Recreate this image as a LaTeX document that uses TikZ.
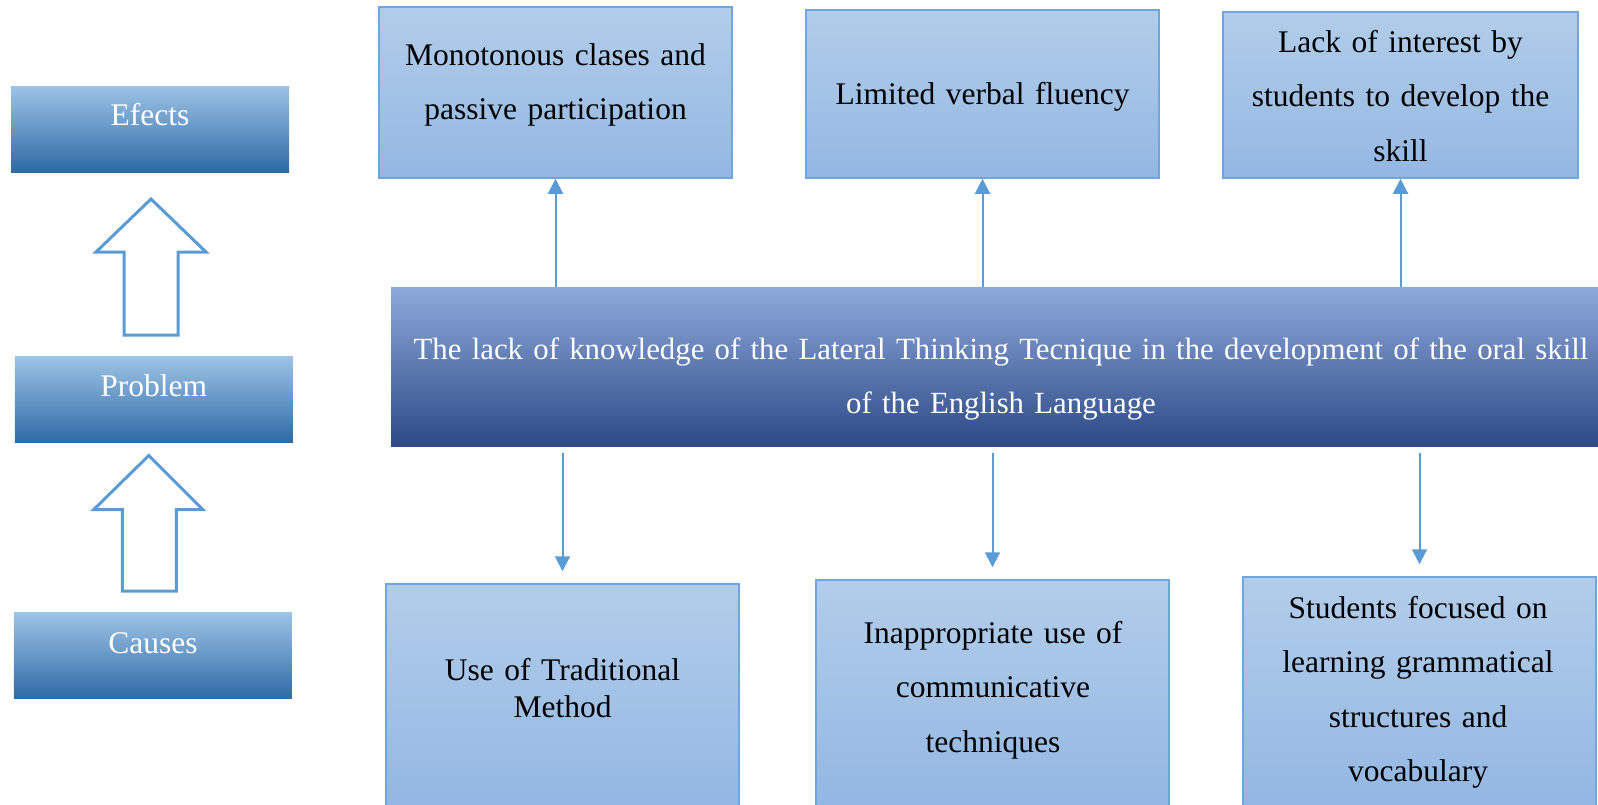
\documentclass[tikz,border=0pt]{standalone}
\usepackage{fontspec}
\setmainfont{Liberation Serif}
\usetikzlibrary{arrows.meta,calc}
\definecolor{lineblue}{HTML}{5B9BD5}
\definecolor{boxedge}{HTML}{6FA6DD}
\definecolor{boxtop}{HTML}{B2CDEA}
\definecolor{boxbot}{HTML}{93B7E3}
\definecolor{lefttop}{HTML}{9DC3E6}
\definecolor{leftmid}{HTML}{5B9BD5}
\definecolor{leftbot}{HTML}{2E6AA4}
\definecolor{ctop}{HTML}{8EA9DB}
\definecolor{cmid}{HTML}{4472C4}
\definecolor{cbot}{HTML}{2D4A86}
\tikzset{
  lightbox/.style={draw=boxedge, line width=0.75pt, top color=boxtop, bottom color=boxbot, inner sep=0pt},
  leftbox/.style={top color=lefttop, middle color=leftmid, bottom color=leftbot, inner sep=0pt, minimum width=139pt, minimum height=43pt},
  probbox/.style={top color=ctop, middle color=cmid, bottom color=cbot, inner sep=0pt},
  txt/.style={anchor=base, align=center, inner sep=0pt, text width=200pt, font=\fontsize{15.75}{27.3}\selectfont},
  wtxt/.style={txt, text=white},
  arr/.style={draw=lineblue, line width=1pt, -{Triangle[width=7.5pt,length=7.5pt]}},
  bigarrow/.style={draw=lineblue, line width=1.5pt, fill=white, line join=miter}
}
\begin{document}
\begin{tikzpicture}[x=0.5pt,y=-0.5pt]
\useasboundingbox (0,0) rectangle (1598,804);
% left column
\node[leftbox] (efects) at (150,129) {};
\node[wtxt] (efectstxt) at (150,125.7) {Efects};
\node[leftbox] (problem) at (153.8,399.7) {};
\node[wtxt] (problemtxt) at (153.8,396.7) {Problem};
\node[leftbox] (causes) at (152.9,655.8) {};
\node[wtxt] (causestxt) at (152.9,653.5) {Causes};
\draw[bigarrow] (151,199) -- (206,252) -- (178,252) -- (178,335) -- (124,335) -- (124,252) -- (96,252) -- cycle;
\draw[bigarrow] (148.8,455.5) -- (202.8,509.5) -- (176.3,509.5) -- (176.3,591) -- (122.3,591) -- (122.3,509.5) -- (93.8,509.5) -- cycle;
% effects
\node[lightbox, minimum width=176.5pt, minimum height=85.5pt] (t1) at (555.5,92.5) {};
\node[txt] (t1txt) at (555.5,65) {Monotonous clases and\\passive participation};
\node[lightbox, minimum width=176.5pt, minimum height=84pt] (t2) at (982.5,94) {};
\node[txt] (t2txt) at (982.5,104) {Limited verbal fluency};
\node[lightbox, minimum width=177.5pt, minimum height=83pt] (t3) at (1400.5,95) {};
\node[txt] (t3txt) at (1400.5,52) {Lack of interest by\\students to develop the\\skill};
% problem
\node[probbox, minimum width=604.5pt, minimum height=79.5pt] (cb) at (995.5,366.5) {};
\node[wtxt, text width=620pt, font=\fontsize{15.4}{27.3}\selectfont] (cbtxt) at (1001,359) {The lack of knowledge of the Lateral Thinking Tecnique in the development of the oral skill\\of the English Language};
% causes
\node[lightbox, minimum width=176.5pt, minimum height=111pt] (b1) at (562.5,695) {};
\node[txt, font=\fontsize{15.75}{18.5}\selectfont] (b1txt) at (562.5,680) {Use of Traditional\\Method};
\node[lightbox, minimum width=176.5pt, minimum height=113pt] (b2) at (992.5,693) {};
\node[txt] (b2txt) at (993,643) {Inappropriate use of\\communicative\\techniques};
\node[lightbox, minimum width=176.5pt, minimum height=114.5pt] (b3) at (1419.5,691.5) {};
\node[txt] (b3txt) at (1418,618) {Students focused on\\learning grammatical\\structures and\\vocabulary};
% connectors
\draw[arr] (cb.north -| t1.south) -- (t1.south);
\draw[arr] (cb.north -| t2.south) -- (t2.south);
\draw[arr] (cb.north -| t3.south) -- (t3.south);
\draw[arr, shorten <=3.5pt, shorten >=6pt] (cb.south -| b1.north) -- (b1.north);
\draw[arr, shorten <=3.5pt, shorten >=6pt] (cb.south -| b2.north) -- (b2.north);
\draw[arr, shorten <=3.5pt, shorten >=6pt] (cb.south -| b3.north) -- (b3.north);
\end{tikzpicture}
\end{document}
